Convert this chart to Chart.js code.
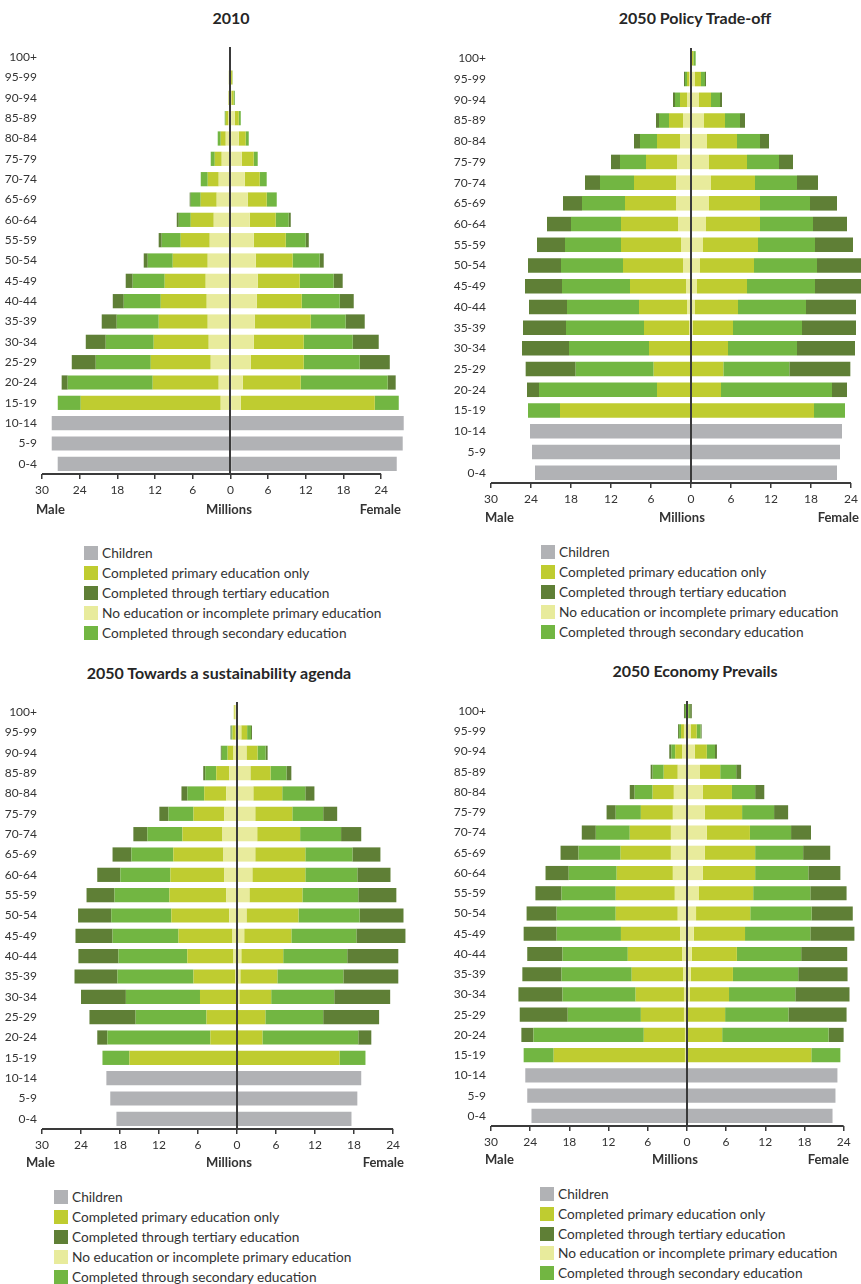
<!DOCTYPE html>
<html>
<head>
<meta charset="utf-8">
<script src="https://cdn.jsdelivr.net/npm/chart.js@4.4.1/dist/chart.umd.min.js"></script>
<style>
  body { margin: 0; width: 861px; height: 1284px; position: relative; overflow: hidden; background: #fff; font-family: Lato, "Open Sans", sans-serif; color: #333; }
  canvas { position: absolute; }
  .titre { position: absolute; font-weight: bold; font-size: 16px; color: #262626; transform: translateX(-50%); white-space: nowrap; line-height: 20px; }
  .axe { position: absolute; font-weight: bold; font-size: 13px; color: #333; white-space: nowrap; line-height: 20px; }
  .leg-carre { position: absolute; width: 14px; height: 14px; }
  .leg-texte { position: absolute; font-size: 13.7px; color: #333; white-space: nowrap; line-height: 20px; }
</style>
</head>
<body>
<script>
// ─── Pyramides des âges par niveau d'éducation ───

const ageGroups = ["100+", "95-99", "90-94", "85-89", "80-84", "75-79", "70-74", "65-69", "60-64", "55-59",
  "50-54", "45-49", "40-44", "35-39", "30-34", "25-29", "20-24", "15-19", "10-14", "5-9", "0-4"];
const xTickValues = [-30, -24, -18, -12, -6, 0, 6, 12, 18, 24];

// education series: 100+ down to 15-19 ; children series: 10-14, 5-9, 0-4 (millions)

// 2010
const m2010None = [0, 0.1, 0.15, 0.37, 0.74, 1.38, 1.86, 2.18, 2.65, 3.29, 3.61, 3.93, 3.77, 3.61, 3.45, 3.13, 1.86, 1.54];
const m2010Primary = [0, 0.15, 0.15, 0.37, 0.8, 1.11, 1.75, 2.55, 3.66, 4.62, 5.57, 6.53, 7.32, 7.8, 8.76, 9.55, 10.51, 22.29];
const m2010Secondary = [0, 0, 0, 0.16, 0.48, 0.64, 1.11, 1.59, 1.91, 3.03, 3.98, 5.1, 5.89, 6.69, 7.64, 8.76, 13.54, 3.66];
const m2010Tertiary = [0, 0, 0, 0, 0, 0, 0, 0.16, 0.32, 0.48, 0.64, 1.11, 1.75, 2.39, 3.18, 3.82, 0.96, 0];
const m2010Children = [28.45, 28.45, 27.5];
const f2010None = [0, 0.1, 0.15, 0.69, 1.33, 1.8, 2.28, 2.76, 3.08, 3.72, 4.03, 4.35, 4.19, 3.87, 3.72, 3.24, 1.96, 1.65];
const f2010Primary = [0, 0.2, 0.35, 0.64, 1.11, 1.91, 2.39, 3.03, 4.14, 5.1, 5.89, 6.69, 7.17, 8.92, 7.96, 8.44, 9.24, 21.34];
const f2010Secondary = [0, 0.05, 0.2, 0.32, 0.48, 0.64, 1.11, 1.59, 2.07, 3.18, 4.3, 5.41, 6.05, 5.57, 7.8, 8.92, 13.85, 3.82];
const f2010Tertiary = [0, 0, 0, 0, 0, 0, 0, 0, 0.32, 0.48, 0.64, 1.43, 2.23, 3.03, 4.14, 4.78, 1.27, 0];
const f2010Children = [27.6, 27.44, 26.49];

// 2050 Policy Trade-off
const mPolicyNone = [0, 0.3, 0.6, 1.2, 1.65, 2.1, 2.25, 2.25, 1.95, 1.5, 1.2, 0.75, 0.6, 0.3, 0.15, 0.05, 0, 0];
const mPolicyPrimary = [0, 0.3, 1.05, 2.1, 3.45, 4.65, 6.3, 7.65, 8.55, 9.0, 9.0, 8.4, 7.2, 6.75, 6.15, 5.55, 5.1, 19.65];
const mPolicySecondary = [0, 0.3, 0.75, 1.5, 2.55, 3.9, 5.1, 6.45, 7.5, 8.4, 9.3, 10.2, 10.8, 11.7, 12.0, 11.7, 17.7, 4.8];
const mPolicyTertiary = [0.15, 0.15, 0.3, 0.45, 0.9, 1.35, 2.25, 2.85, 3.6, 4.2, 4.95, 5.55, 5.7, 6.45, 7.05, 7.5, 1.8, 0];
const mPolicyChildren = [24.15, 23.85, 23.4];
const fPolicyNone = [0.15, 0.6, 1.2, 1.95, 2.4, 2.7, 3.0, 2.7, 2.25, 1.8, 1.35, 0.9, 0.6, 0.3, 0.15, 0.05, 0, 0];
const fPolicyPrimary = [0.2, 0.9, 1.8, 3.15, 4.5, 5.7, 6.6, 7.65, 8.1, 8.25, 8.1, 7.5, 6.45, 6.0, 5.4, 4.8, 4.5, 18.45];
const fPolicySecondary = [0.35, 0.6, 1.35, 2.25, 3.45, 4.8, 6.3, 7.5, 7.95, 8.55, 9.45, 10.2, 10.2, 10.35, 10.35, 9.9, 16.65, 4.65];
const fPolicyTertiary = [0, 0.15, 0.3, 0.75, 1.35, 2.1, 3.15, 4.05, 5.1, 5.7, 6.9, 7.0, 7.5, 8.1, 8.7, 9.15, 2.25, 0];
const fPolicyChildren = [22.65, 22.35, 21.9];

// 2050 Towards a sustainability agenda
const mSustainNone = [0.35, 0.2, 0.55, 1.2, 1.65, 1.95, 2.25, 2.1, 1.95, 1.65, 1.2, 0.7, 0.55, 0.25, 0.05, 0, 0, 0];
const mSustainPrimary = [0.15, 0.5, 0.9, 2.0, 3.4, 4.75, 6.15, 7.7, 8.3, 8.75, 8.9, 8.3, 7.1, 6.45, 5.65, 4.7, 4.1, 16.55];
const mSustainSecondary = [0, 0.15, 0.9, 1.7, 2.6, 3.85, 5.4, 6.45, 7.7, 8.45, 9.25, 10.15, 10.6, 11.7, 11.4, 10.9, 15.85, 4.15];
const mSustainTertiary = [0, 0.15, 0.15, 0.3, 0.9, 1.4, 2.15, 2.9, 3.55, 4.3, 5.1, 5.7, 6.15, 6.6, 6.9, 7.1, 1.55, 0];
const mSustainChildren = [20.1, 19.5, 18.55];
const fSustainNone = [0.1, 0.65, 1.45, 2.05, 2.5, 2.8, 3.1, 2.8, 2.35, 1.9, 1.45, 1.1, 0.65, 0.5, 0.35, 0, 0, 0];
const fSustainPrimary = [0, 0.9, 1.7, 3.1, 4.45, 5.7, 6.6, 7.7, 8.15, 8.15, 8.0, 7.25, 6.45, 5.7, 4.9, 4.35, 3.9, 15.75];
const fSustainSecondary = [0, 0.6, 1.25, 2.45, 3.55, 4.75, 6.3, 7.25, 8.0, 8.6, 9.4, 10.0, 9.85, 10.15, 9.7, 8.9, 14.75, 4.0];
const fSustainTertiary = [0, 0.15, 0.3, 0.75, 1.4, 2.15, 3.1, 4.3, 5.1, 5.85, 6.75, 7.55, 7.85, 8.45, 8.6, 8.6, 2.0, 0];
const fSustainChildren = [19.1, 18.5, 17.6];

// 2050 Economy Prevails
const mEconomyNone = [0.05, 0.45, 0.75, 1.4, 2.0, 2.15, 2.45, 2.45, 2.15, 1.85, 1.4, 1.05, 0.75, 0.6, 0.45, 0.45, 0.3, 0.3];
const mEconomyPrimary = [0, 0.45, 1.05, 2.15, 3.25, 4.9, 6.3, 7.7, 8.6, 9.05, 9.5, 9.05, 8.3, 7.85, 7.4, 6.6, 6.3, 20.1];
const mEconomySecondary = [0.25, 0.3, 0.6, 1.7, 2.75, 3.85, 5.2, 6.45, 7.35, 8.3, 9.05, 9.85, 10.0, 10.75, 11.2, 11.2, 16.9, 4.6];
const mEconomyTertiary = [0.15, 0.15, 0.3, 0.3, 0.75, 1.4, 2.15, 2.75, 3.55, 4.0, 4.6, 5.05, 5.4, 6.0, 6.75, 7.35, 1.85, 0];
const mEconomyChildren = [24.75, 24.45, 23.8];
const fEconomyNone = [0.1, 0.6, 1.2, 2.0, 2.45, 2.75, 3.05, 2.75, 2.45, 1.85, 1.4, 1.05, 0.75, 0.6, 0.45, 0.15, 0, 0];
const fEconomyPrimary = [0.1, 0.9, 1.85, 3.1, 4.45, 5.7, 6.6, 7.7, 8.0, 8.3, 8.3, 7.85, 6.9, 6.45, 6.0, 5.7, 5.4, 19.05];
const fEconomySecondary = [0.3, 0.6, 1.25, 2.45, 3.55, 4.9, 6.3, 7.35, 8.15, 8.75, 9.4, 10.0, 9.85, 10.0, 10.15, 9.7, 16.3, 4.45];
const fEconomyTertiary = [0.25, 0.15, 0.3, 0.75, 1.4, 2.15, 3.05, 4.15, 4.9, 5.55, 6.3, 6.75, 7.05, 7.55, 8.3, 8.9, 2.3, 0];
const fEconomyChildren = [23.05, 22.75, 22.3];

// legend order and colours
const legendLabels = ["Children", "Completed primary education only", "Completed through tertiary education",
  "No education or incomplete primary education", "Completed through secondary education"];
const COULEURS = {
  children: "#b1b2b5",
  primary: "#bfcc30",
  tertiary: "#5f7f36",
  none: "#e8eb9c",
  secondary: "#72b642",
};
const legendKeys = ["children", "primary", "tertiary", "none", "secondary"];
// stacking order, from the centre line outwards
const stackKeys = ["children", "none", "primary", "secondary", "tertiary"];

const panneaux = [
  {
    titre: "2010",
    male: { children: m2010Children, none: m2010None, primary: m2010Primary, secondary: m2010Secondary, tertiary: m2010Tertiary },
    female: { children: f2010Children, none: f2010None, primary: f2010Primary, secondary: f2010Secondary, tertiary: f2010Tertiary },
    box: { left: 0, top: 47, width: 410, plotH: 427, yW: 42, xMax: 28.6 },
    titreXY: [231, 18],
    axes: { y: 509, male: 36, millions: 229, female: 401 },
    legende: { left: 84, top: 553, pas: 20 },
  },
  {
    titre: "2050 Policy Trade-off",
    male: { children: mPolicyChildren, none: mPolicyNone, primary: mPolicyPrimary, secondary: mPolicySecondary, tertiary: mPolicyTertiary },
    female: { children: fPolicyChildren, none: fPolicyNone, primary: fPolicyPrimary, secondary: fPolicySecondary, tertiary: fPolicyTertiary },
    box: { left: 431, top: 48, width: 430, plotH: 435, yW: 60, xMax: 25.5 },
    titreXY: [695, 18],
    axes: { y: 517, male: 485, millions: 682, female: 859 },
    legende: { left: 541, top: 552, pas: 20 },
  },
  {
    titre: "2050 Towards a sustainability agenda",
    male: { children: mSustainChildren, none: mSustainNone, primary: mSustainPrimary, secondary: mSustainSecondary, tertiary: mSustainTertiary },
    female: { children: fSustainChildren, none: fSustainNone, primary: fSustainPrimary, secondary: fSustainSecondary, tertiary: fSustainTertiary },
    box: { left: 0, top: 702, width: 410, plotH: 427, yW: 42, xMax: 26.6 },
    titreXY: [219, 673],
    axes: { y: 1162, male: 26, millions: 229, female: 404 },
    legende: { left: 54, top: 1197, pas: 20 },
  },
  {
    titre: "2050 Economy Prevails",
    male: { children: mEconomyChildren, none: mEconomyNone, primary: mEconomyPrimary, secondary: mEconomySecondary, tertiary: mEconomyTertiary },
    female: { children: fEconomyChildren, none: fEconomyNone, primary: fEconomyPrimary, secondary: fEconomySecondary, tertiary: fEconomyTertiary },
    box: { left: 431, top: 701, width: 430, plotH: 425, yW: 60, xMax: 26.66 },
    titreXY: [695, 671],
    axes: { y: 1159, male: 485, millions: 675, female: 849 },
    legende: { left: 540, top: 1194, pas: 19.75 },
  },
];

Chart.defaults.font.family = "Lato, 'Open Sans', sans-serif";

// centre line and the x axis line (which stops at the 24 tick)
const traitsPyramide = {
  id: "traitsPyramide",
  afterDatasetsDraw(chart) {
    const { ctx, chartArea, scales } = chart;
    const x = scales.x;
    ctx.save();
    ctx.strokeStyle = "#3a3a3a";
    ctx.lineWidth = 2;
    const x0 = Math.round(x.getPixelForValue(0));
    ctx.beginPath();
    ctx.moveTo(x0, chartArea.top);
    ctx.lineTo(x0, chartArea.bottom);
    ctx.stroke();
    ctx.beginPath();
    ctx.moveTo(x.getPixelForValue(xTickValues[0]), chartArea.bottom);
    ctx.lineTo(x.getPixelForValue(xTickValues[xTickValues.length - 1]), chartArea.bottom);
    ctx.stroke();
    ctx.restore();
  },
};

// no automatic padding around the plot: its box is set by the layout above
function sansMarge(s) {
  s.paddingTop = 0;
  s.paddingBottom = 0;
  s.paddingLeft = 0;
  s.paddingRight = 0;
}

function serie(p, sexe, cle) {
  const signe = sexe === "male" ? -1 : 1;
  const vals = p[sexe][cle];
  const complet = cle === "children"
    ? [...new Array(ageGroups.length - vals.length).fill(null), ...vals]
    : [...vals, ...new Array(ageGroups.length - vals.length).fill(null)];
  return complet.map((v) => (v === null ? null : signe * v));
}

function dessinerPanneau(p) {
  const b = p.box;
  const canvas = document.createElement("canvas");
  canvas.width = b.width;
  canvas.height = b.plotH + 32;
  canvas.style.left = b.left + "px";
  canvas.style.top = b.top + "px";
  document.body.appendChild(canvas);

  const datasets = [];
  ["male", "female"].forEach((sexe) => {
    stackKeys.forEach((cle) => {
      datasets.push({
        label: sexe + " " + cle,
        data: serie(p, sexe, cle),
        backgroundColor: COULEURS[cle],
        borderWidth: 0,
        barPercentage: 0.7,
        categoryPercentage: 1.0,
      });
    });
  });

  new Chart(canvas, {
    type: "bar",
    data: { labels: ageGroups, datasets },
    options: {
      indexAxis: "y",
      responsive: false,
      animation: false,
      devicePixelRatio: 1,
      layout: { padding: 0, autoPadding: false },
      plugins: { legend: { display: false }, tooltip: { enabled: false } },
      scales: {
        x: {
          stacked: true,
          min: -30,
          max: b.xMax,
          afterBuildTicks: (s) => { s.ticks = xTickValues.map((v) => ({ value: v })); },
          afterFit: (s) => { s.height = 32; sansMarge(s); },
          ticks: { callback: (v) => Math.abs(v), color: "#333", font: { size: 12 }, padding: 4, maxRotation: 0, autoSkip: false },
          grid: { display: true, drawOnChartArea: false, drawTicks: true, tickLength: 5, color: "#3a3a3a", lineWidth: 1.5 },
          border: { display: false },
        },
        y: {
          stacked: true,
          afterFit: (s) => { s.width = b.yW; sansMarge(s); },
          ticks: { color: "#333", font: { size: 12 }, padding: 5, autoSkip: false },
          grid: { display: false, drawTicks: false, tickLength: 0 },
          border: { display: false },
        },
      },
    },
    plugins: [traitsPyramide],
  });

  ajouterTexte("titre", p.titre, { left: p.titreXY[0], top: p.titreXY[1] - 10 });
  ajouterTexte("axe", "Male", { left: p.axes.male, top: p.axes.y - 10 });
  const mil = ajouterTexte("axe", "Millions", { left: p.axes.millions, top: p.axes.y - 10 });
  mil.style.transform = "translateX(-50%)";
  const fem = ajouterTexte("axe", "Female", { left: p.axes.female, top: p.axes.y - 10 });
  fem.style.transform = "translateX(-100%)";

  legendKeys.forEach((cle, i) => {
    const y = p.legende.top + i * p.legende.pas;
    const carre = document.createElement("div");
    carre.className = "leg-carre";
    carre.style.left = p.legende.left + "px";
    carre.style.top = (y - 7) + "px";
    carre.style.background = COULEURS[cle];
    document.body.appendChild(carre);
    ajouterTexte("leg-texte", legendLabels[i], { left: p.legende.left + 18, top: y - 10 });
  });
}

function ajouterTexte(classe, texte, pos) {
  const d = document.createElement("div");
  d.className = classe;
  d.textContent = texte;
  d.style.left = pos.left + "px";
  d.style.top = pos.top + "px";
  document.body.appendChild(d);
  return d;
}

panneaux.forEach(dessinerPanneau);
</script>
</body>
</html>
